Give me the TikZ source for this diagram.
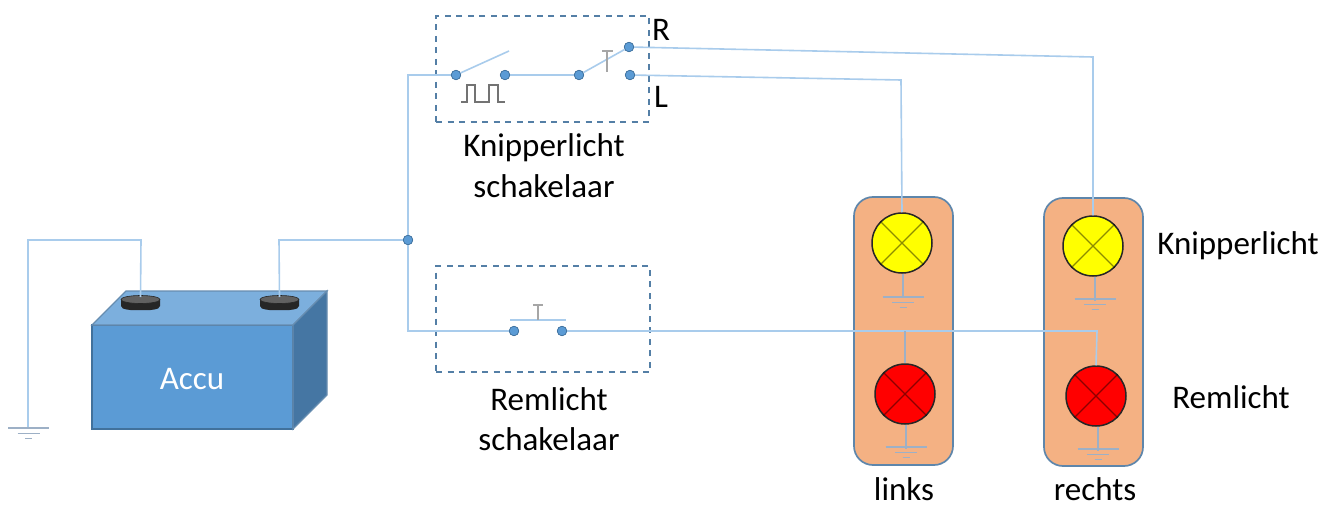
\documentclass[tikz,border=0pt]{standalone}
\usepackage{fontspec}
\setmainfont{Carlito}
\usetikzlibrary{calc}
\definecolor{wirec}{HTML}{A9CCEC}
\definecolor{dotc}{HTML}{5B9BD5}
\definecolor{edgec}{HTML}{41719C}
\definecolor{panelc}{HTML}{F4B183}
\definecolor{groundc}{HTML}{9DB0C6}
\definecolor{tgray}{HTML}{A6A6A6}
\definecolor{lampy}{HTML}{FFFF00}
\definecolor{lampr}{HTML}{FF0000}
\tikzset{
  wire/.style={draw=wirec,line width=1.6pt},
  solder/.style={circle,fill=dotc,draw=edgec,line width=.6pt,inner sep=0pt,minimum size=9.5pt},
  dashbox/.style={draw=edgec!90!white,line width=1.7pt,dash pattern=on 6pt off 5.5pt},
  panel/.style={draw=edgec!85!white,line width=1.7pt,fill=panelc,rounded corners=19pt},
  lamp/.style={circle,draw=black!85,line width=1.5pt,inner sep=0pt,minimum size=60pt},
  lampx/.style={draw=black,draw opacity=.45,line width=1.3pt},
  txt/.style={font=\fontsize{33}{38}\selectfont,text=black,inner sep=0pt,anchor=base},
  gnd/.style={draw=groundc,line width=1.3pt},
  knob/.style={draw=tgray,line width=1.5pt}
}
\newcommand{\earth}[2]{%
  \draw[gnd] (#1-20.5,#2)--(#1+20.5,#2) (#1-11,#2+5.5)--(#1+11,#2+5.5) (#1-3.5,#2+10.5)--(#1+3.5,#2+10.5);}
\newcommand{\pole}[2]{%
  \fill[black!85,rounded corners=2pt] (#1-19.5,#2-3) -- (#1-19.5,#2+7) -- (#1-12,#2+9) -- (#1+12,#2+9) -- (#1+19.5,#2+7) -- (#1+19.5,#2-3) -- cycle;
  \fill[black!62,draw=black!85,line width=.6pt] (#1,#2-1.5) ellipse[x radius=19.5,y radius=4];}
\begin{document}
\begin{tikzpicture}[x=1pt,y=-1pt]
\useasboundingbox[fill=white] (0,0) rectangle (1334,508);
% battery
\path[fill=dotc,draw=edgec,line width=1.2pt] (92,325) rectangle (293,429);
\path[fill=dotc!80!white,draw=edgec!80!white,line width=1.2pt] (92,325)--(126,291)--(327,291)--(293,325)--cycle;
\path[fill=dotc!62!edgec!85!black,draw=edgec!80!white,line width=1.2pt] (293,325)--(327,291)--(327,395)--(293,429)--cycle;
\pole{140.5}{301}
\pole{279.5}{301}
\node[txt,text=white] (accu) at (192,389) {Accu};
% panels
\node[panel,minimum width=99pt,minimum height=268pt,inner sep=0pt] (pl) at (903.5,331) {};
\node[panel,minimum width=99pt,minimum height=268pt,inner sep=0pt] (pr) at (1093.5,332) {};
% lamps
\node[lamp,fill=lampy] (yl) at (902,243) {};
\node[lamp,fill=lampy] (yr) at (1093,246) {};
\node[lamp,fill=lampr] (rl) at (905,394) {};
\node[lamp,fill=lampr] (rr) at (1096,396) {};
\foreach \n in {yl,yr,rl,rr}{
  \draw[lampx] (\n.45)--(\n.225) (\n.135)--(\n.315);
}
% switch boxes
\node[dashbox,minimum width=213pt,minimum height=106pt,inner sep=0pt] (bk) at (542.5,69) {};
\node[dashbox,minimum width=214pt,minimum height=106pt,inner sep=0pt] (br) at (543,319) {};
% contacts
\node[solder] (a1) at (456,75) {};
\node[solder] (a2) at (505,75) {};
\node[solder] (a3) at (579,75) {};
\node[solder] (cr) at (629,47) {};
\node[solder] (cl) at (630,75) {};
\node[solder] (p1) at (514,331) {};
\node[solder] (p2) at (562,331) {};
\coordinate (lever) at (509,51);
\coordinate (jt) at (408,75);
\coordinate (jb) at (408,331);
\coordinate (c1) at (279,240);
\coordinate (t1) at (279.5,297);
\coordinate (t2) at (140.5,297);
\coordinate (c2) at (141,240);
\coordinate (c3) at (28,240);
\coordinate (g0) at (28,428);
\coordinate (kl) at (901,80);
\coordinate (kr) at (1093,57);
\coordinate (jrl) at (905,331);
\coordinate (jrr) at (1097,331);
% wires
\node[solder] (j) at (408,240) {};
\draw[wire] (t1)--(c1)--(j);
\draw[wire] (a1)--(jt)--(jb)--(p1);
\draw[wire] (t2)--(c2)--(c3)--(g0);
\draw[wire] (a1)--(lever);
\draw[wire] (a2)--(a3)--(cr);
\draw[wire] (cr)--(kr)--(yr.north);
\draw[wire] (cl)--(kl)--(yl.north);
\draw[wire] (p2)--(jrr)--(rr.north);
\draw[wire,draw=groundc] (jrl)--(rl.north);
\draw[wire] (510,320)--(566,320);
% redraw contacts on top
\foreach \x/\y in {408/240,456/75,505/75,579/75,629/47,630/75,514/331,562/331}{
  \fill[dotc,draw=edgec,line width=.6pt] (\x,\y) circle[radius=4.75];
}
% knobs
\draw[knob,line width=1.2pt,draw=black!55] (461,102)--(467,102)--(467,85)--(475,85)--(475,102)--(489,102)--(489,85)--(498,85)--(498,102)--(505,102);
\draw[knob] (607,72)--(607,51) (602,51)--(613,51);
\draw[knob] (538,320)--(538,305) (533,305)--(543,305);
% grounds
\earth{28.5}{428}
\draw[gnd] (yl.south)++(1,0)--++(0,24);
\earth{903}{297}
\draw[gnd] (rl.south)++(1,0)--++(0,24);
\earth{906}{447}
\draw[gnd] (yr.south)++(2,0)--++(0,24);
\earth{1095}{299}
\draw[gnd] (rr.south)++(2,0)--++(0,24);
\earth{1098}{449}
% labels
\node[txt] (lr) at (661,41) {R};
\node[txt] (ll) at (661,108) {L};
\node[txt] (lk1) at (544,157) {Knipperlicht};
\node[txt] (lk2) at (544,197) {schakelaar};
\node[txt] (lr1) at (549,410) {Remlicht};
\node[txt] (lr2) at (549,450) {schakelaar};
\node[txt] (lli) at (904,500) {links};
\node[txt] (lre) at (1095,500) {rechts};
\node[txt] (lkk) at (1238,254) {Knipperlicht};
\node[txt] (lrr) at (1231,408) {Remlicht};
\end{tikzpicture}
\end{document}
